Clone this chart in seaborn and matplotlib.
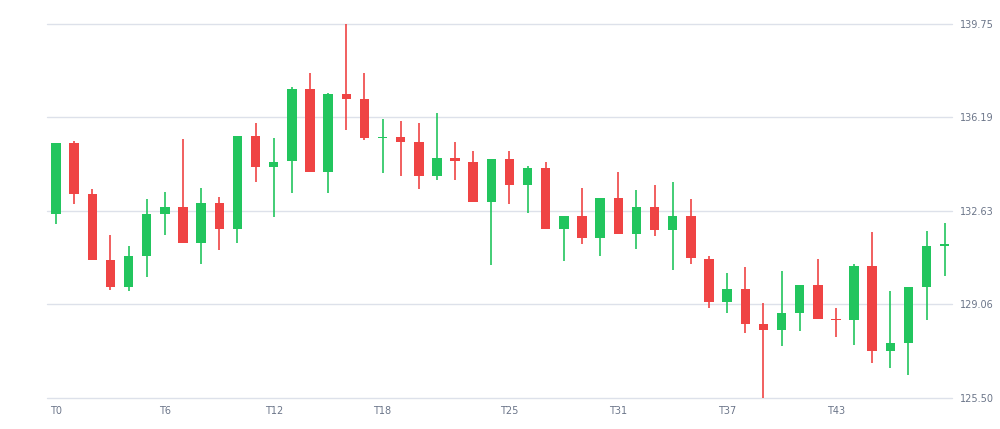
import numpy as np
import pandas as pd
import seaborn as sns
import matplotlib
matplotlib.use("Agg")
import matplotlib.pyplot as plt

# candle values, one per period T0..T49
OPEN = [132.52, 135.19, 133.25, 130.75, 129.73, 130.90, 132.52, 132.78, 131.41, 132.93,
        131.92, 135.47, 134.30, 134.52, 137.25, 134.09, 137.06, 136.87, 135.40, 135.42,
        135.23, 133.96, 134.62, 134.49, 132.97, 134.58, 133.60, 134.26, 131.95, 132.42,
        131.61, 133.13, 131.74, 132.78, 131.89, 132.42, 130.81, 129.16, 129.67, 128.31,
        128.08, 128.75, 129.79, 128.50, 128.46, 130.53, 127.29, 127.61, 129.71, 131.30]
CLOSE = [135.19, 133.26, 130.77, 129.73, 130.90, 132.50, 132.78, 131.41, 132.93, 131.92,
         135.47, 134.30, 134.49, 137.25, 134.09, 137.06, 136.87, 135.38, 135.42, 135.25,
         133.96, 134.62, 134.52, 132.97, 134.58, 133.60, 134.26, 131.95, 132.42, 131.61,
         133.13, 131.74, 132.78, 131.89, 132.42, 130.85, 129.16, 129.67, 128.31, 128.08,
         128.75, 129.79, 128.50, 128.46, 130.53, 127.29, 127.61, 129.71, 131.29, 131.34]
HIGH = [135.22, 135.29, 133.44, 131.70, 131.28, 133.07, 133.35, 135.36, 133.48, 133.16,
        135.47, 135.98, 135.38, 137.32, 137.86, 137.10, 139.75, 137.86, 136.11, 136.05,
        135.95, 136.36, 135.25, 134.90, 134.58, 134.91, 134.33, 134.49, 132.42, 133.48,
        133.13, 134.09, 133.41, 133.60, 133.73, 133.07, 130.90, 130.26, 130.47, 129.12,
        130.34, 129.79, 130.81, 128.91, 130.62, 131.83, 129.58, 129.71, 131.86, 132.18]
LOW = [132.12, 132.88, 130.77, 129.60, 129.58, 130.10, 131.70, 131.41, 130.62, 131.15,
       131.41, 133.73, 132.40, 133.32, 134.09, 133.32, 135.72, 135.32, 134.05, 133.95,
       133.45, 133.79, 133.79, 132.97, 130.56, 132.87, 132.56, 131.95, 130.72, 131.38,
       130.90, 131.74, 131.19, 131.66, 130.39, 130.62, 128.91, 128.75, 127.99, 125.50,
       127.48, 128.04, 128.50, 127.83, 127.53, 126.84, 126.65, 126.39, 128.46, 130.14]

Y_TICKS = [125.50, 129.0625, 132.625, 136.1875, 139.75]
Y_LABELS = ["125.50", "129.06", "132.63", "136.19", "139.75"]
X_TICKS = [0, 6, 12, 18, 25, 31, 37, 43]

UP = "#22c55e"
DOWN = "#ef4444"
GRID = "#dde1ea"
LABEL = "#6b7589"

df = pd.DataFrame({"open": OPEN, "close": CLOSE, "high": HIGH, "low": LOW})
df["t"] = np.arange(len(df))
df["up"] = df["close"] >= df["open"]
df["color"] = np.where(df["up"], UP, DOWN)
df["bottom"] = df[["open", "close"]].min(axis=1)
df["height"] = (df["close"] - df["open"]).abs().clip(lower=0.05)

sns.set_theme(style="white")

fig = plt.figure(figsize=(10, 4.29), dpi=100)
ax = fig.add_axes([0.047, 0.072, 0.905, 0.873])

for y in Y_TICKS:
    ax.axhline(y, color=GRID, lw=1.0, zorder=0, clip_on=False)

ax.vlines(df["t"], df["low"], df["high"], colors=df["color"], lw=1.2, zorder=2)
ax.bar(df["t"], df["height"], bottom=df["bottom"], width=0.52,
       color=df["color"], linewidth=0, zorder=3)

ax.set_xlim(-0.5, 49.4)
ax.set_ylim(125.5, 139.75)
ax.yaxis.tick_right()
ax.set_yticks(Y_TICKS)
ax.set_yticklabels(Y_LABELS)
ax.set_xticks(X_TICKS)
ax.set_xticklabels([f"T{i}" for i in X_TICKS])
ax.tick_params(axis="y", length=0, pad=6, labelsize=7, labelcolor=LABEL)
ax.tick_params(axis="x", length=0, pad=6, labelsize=7, labelcolor=LABEL)
sns.despine(ax=ax, left=True, bottom=True, right=True, top=True)
ax.grid(False)

fig.savefig("out.png", dpi=100, facecolor="white")
